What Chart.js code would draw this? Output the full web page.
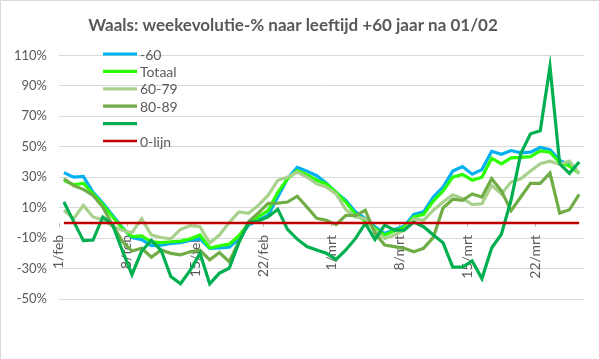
<!DOCTYPE html>
<html>
<head>
<meta charset="utf-8">
<script src="https://cdn.jsdelivr.net/npm/chart.js@4/dist/chart.umd.min.js"></script>
<style>
  html, body { margin: 0; padding: 0; background: #fff; }
  #wrap { width: 599px; height: 359px; }
</style>
</head>
<body>
<div id="wrap"><canvas id="chart" width="599" height="359"></canvas></div>
<script>
// dagen van 1/feb tot 26/mrt
const dagen = [
  '1/feb', '2/feb', '3/feb', '4/feb', '5/feb', '6/feb', '7/feb', '8/feb', '9/feb', '10/feb',
  '11/feb', '12/feb', '13/feb', '14/feb', '15/feb', '16/feb', '17/feb', '18/feb', '19/feb', '20/feb',
  '21/feb', '22/feb', '23/feb', '24/feb', '25/feb', '26/feb', '27/feb', '28/feb',
  '1/mrt', '2/mrt', '3/mrt', '4/mrt', '5/mrt', '6/mrt', '7/mrt', '8/mrt', '9/mrt', '10/mrt',
  '11/mrt', '12/mrt', '13/mrt', '14/mrt', '15/mrt', '16/mrt', '17/mrt', '18/mrt', '19/mrt', '20/mrt',
  '21/mrt', '22/mrt', '23/mrt', '24/mrt', '25/mrt', '26/mrt'
];

// weekevolutie in %
const min60 = [
  33, 30, 30.5, 20, 13, 5, -3, -9.6, -11, -15, -14.6, -13.5, -13, -11.3, -10.5, -16.7, -16.5, -16, -10.5, -1.5,
  1.7, 5, 17, 29, 36.5, 34, 31, 26, 20, 14.8, 7.2, 2.8, -2.6, -7, -4.3, -2.2, 5.6, 7.2, 17, 23.5,
  34, 37, 32, 35, 47, 45, 47.5, 46, 46.5, 49.5, 48, 41, 38.5, 32.5
];
const totaal = [
  28, 25, 26, 19, 12, 4, -3.5, -9, -8.5, -12.4, -13, -12.4, -12, -10.5, -8, -16.5, -15, -14, -8.5, -0.5,
  3.9, 8, 20, 29, 34.3, 31.7, 28, 25.6, 20, 13.7, 5.6, 1.3, -3.7, -8, -5.2, -3, 3.9, 5.6, 14.3, 20.9,
  30, 31.8, 28, 30, 42.5, 38.8, 42.7, 43, 43.5, 47.3, 46.4, 39.5, 37.3, 32.7
];
const leeftijd6079 = [
  8.3, 2.8, 11.5, 3.9, 2, -2.2, -4.8, -6.5, 2.8, -8, -9.6, -10.5, -4.3, -1.8, -2.5, -13.2, -8, 0.2, 7.2, 6.3,
  11.5, 18, 28, 30, 33.3, 30, 25.6, 23.5, 19, 8.7, 3.9, 2.8, -4.8, -10.2, -8, -4.8, 2.8, 1.7, 8.3, 13.7,
  18.5, 16, 12, 12.5, 24.6, 19, 26.8, 29, 34, 38.8, 40.5, 38.5, 40.5, 32.5
];
const leeftijd8089 = [
  29, 24.5, 22, 18, 10.4, -1.5, -12, -18.5, -16.7, -22.6, -17.8, -20, -21, -19, -18, -24.3, -19.5, -25.5, -12.4, 0.7,
  6.5, 12.8, 13, 13.7, 17.5, 10.4, 3, 1.7, -1.2, 5, 4.7, 8.3, -6.8, -14.6, -15.6, -16.7, -19, -16.7, -9.5, 9.8,
  15.5, 14.8, 19, 17, 29, 21, 8, 17, 26, 26, 32.7, 6.4, 8.6, 18.7
];
const leeftijd90 = [
  13.7, 1, -11.7, -11.3, 3.9, -1, -18, -34, -18.5, -11.5, -18, -35.2, -40, -31, -20, -40, -33, -29.8, -13, 0.3,
  1.2, 3.9, 9, -4.3, -10.7, -15.6, -17.8, -20, -24, -17.8, -10.2, -0.4, -10.9, -1.5, -4.8, -4.8, 0.5, -2.5, -8, -13,
  -29, -29, -25, -36.6, -16.5, -7.5, 15, 45.5, 58.5, 60.5, 102.7, 38.8, 32.5, 40
];
const nulLijn = dagen.map(() => 0);

const fontFamily = 'Lato, "Liberation Sans", sans-serif';
const tekstKleur = '#595959';

// witte achtergrond en rand
const achtergrond = {
  id: 'achtergrond',
  beforeDraw(chart) {
    const ctx = chart.ctx;
    ctx.save();
    ctx.fillStyle = '#ffffff';
    ctx.fillRect(0, 0, chart.width, chart.height);
    ctx.strokeStyle = '#d9d9d9';
    ctx.lineWidth = 1;
    ctx.beginPath();
    ctx.moveTo(0.5, chart.height);
    ctx.lineTo(0.5, 0.5);
    ctx.lineTo(chart.width, 0.5);
    ctx.stroke();
    ctx.restore();
  }
};

// legende in het grafiekgebied (zoals in Excel)
const legende = {
  id: 'legende',
  afterDatasetsDraw(chart) {
    const ctx = chart.ctx;
    ctx.save();
    ctx.font = '14px ' + fontFamily;
    ctx.textBaseline = 'middle';
    chart.data.datasets.forEach((ds, i) => {
      const y = 54 + i * 17.4;
      ctx.strokeStyle = ds.borderColor;
      ctx.lineWidth = ds.borderWidth;
      ctx.beginPath();
      ctx.moveTo(103, y);
      ctx.lineTo(137, y);
      ctx.stroke();
      ctx.fillStyle = tekstKleur;
      ctx.fillText(ds.label, 140, y + 1);
    });
    ctx.restore();
  }
};

new Chart(document.getElementById('chart'), {
  type: 'line',
  data: {
    labels: dagen,
    datasets: [
      { label: '-60', data: min60, borderColor: '#00b0f0', borderWidth: 3.2, order: 6 },
      { label: 'Totaal', data: totaal, borderColor: '#2bff00', borderWidth: 3.2, order: 5 },
      { label: '60-79', data: leeftijd6079, borderColor: '#a9d18e', borderWidth: 3.2, order: 4 },
      { label: '80-89', data: leeftijd8089, borderColor: '#70ad47', borderWidth: 3.2, order: 3 },
      { label: '', data: leeftijd90, borderColor: '#00b050', borderWidth: 3.2, order: 2 },
      { label: '0-lijn', data: nulLijn, borderColor: '#c00000', borderWidth: 2.5, order: 1 }
    ]
  },
  options: {
    responsive: false,
    animation: false,
    elements: {
      point: { radius: 0 },
      line: { tension: 0, fill: false }
    },
    layout: {
      padding: { left: 2, right: 15, top: 0, bottom: 60 }
    },
    plugins: {
      legend: { display: false },
      tooltip: { enabled: false },
      title: {
        display: true,
        text: 'Waals: weekevolutie-% naar leeftijd +60 jaar na 01/02',
        color: tekstKleur,
        font: { family: fontFamily, size: 17, weight: 'bold' },
        padding: { top: 15, bottom: 20 }
      }
    },
    scales: {
      x: {
        type: 'category',
        position: { y: 0 },
        offset: true,
        border: { display: false },
        grid: {
          drawOnChartArea: false,
          drawTicks: true,
          tickLength: 4,
          offset: true,
          color: (ctx) => (ctx.index % 7 === 0 ? '#bfbfbf' : 'rgba(0,0,0,0)')
        },
        ticks: {
          autoSkip: false,
          maxRotation: 90,
          minRotation: 90,
          padding: 8,
          labelOffset: -5,
          color: tekstKleur,
          font: { family: fontFamily, size: 14 },
          callback: function (val, idx) {
            return idx % 7 === 0 ? this.getLabelForValue(val) : '';
          }
        },
        // geen extra ruimte rechts voor de gedraaide labels
        afterFit: (scale) => {
          scale.paddingLeft = 0;
          scale.paddingRight = 0;
        }
      },
      y: {
        min: -50,
        max: 110,
        border: { display: false },
        grid: { color: '#d9d9d9', drawTicks: false },
        ticks: {
          stepSize: 20,
          padding: 12,
          color: tekstKleur,
          font: { family: fontFamily, size: 13 },
          callback: (v) => v + '%'
        }
      }
    }
  },
  plugins: [achtergrond, legende]
});
</script>
</body>
</html>
